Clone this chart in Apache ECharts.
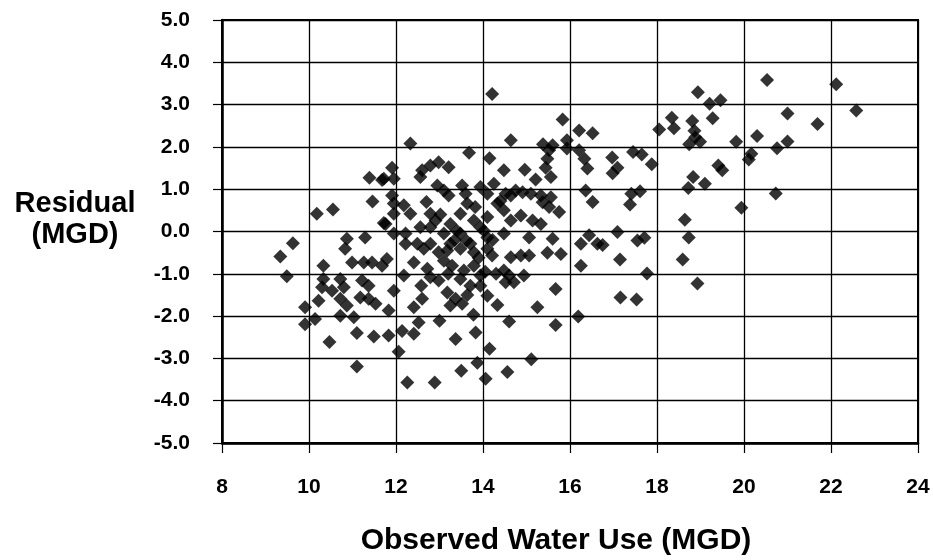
<!DOCTYPE html>
<html>
<head>
<meta charset="utf-8">
<script src="https://cdn.jsdelivr.net/npm/echarts@6/dist/echarts.min.js"></script>
<style>
  html, body { margin: 0; padding: 0; background: #fff; }
  #chart { width: 933px; height: 560px; }
</style>
</head>
<body>
<div id="chart"></div>
<script>
// Observed water use (MGD) for each day
const observed = [
  20.53, 22.12, 22.58, 18.94, 19.46, 19.21, 21.00, 21.69, 18.34, 18.39, 18.05, 18.81, 19.28, 18.86, 18.88, 18.74, 18.99,
  19.82, 20.30, 21.00, 20.76, 20.17, 20.11, 19.41, 19.50, 18.83, 18.72, 19.10, 20.73, 19.94, 18.64, 18.73, 18.59, 18.93,
  17.45, 17.65, 16.97, 17.09, 17.88, 16.98, 17.61, 17.41, 17.38, 17.09, 16.75, 17.55, 17.71, 17.15, 17.77, 17.16, 17.53,
  14.21, 15.83, 16.21, 16.52, 14.64, 15.93, 15.38, 15.60, 15.93, 16.21, 15.52, 15.48, 16.33, 16.40, 14.15, 14.48, 14.96,
  15.44, 15.56, 15.21, 16.36, 16.52, 14.25, 14.64, 14.52, 14.75, 14.91, 15.10, 15.33, 15.56, 15.37, 15.52, 15.75, 14.33,
  14.48, 14.87, 15.14, 15.33, 14.64, 14.48, 15.06, 15.60, 16.44, 16.25, 16.63,
  14.21, 14.64, 14.87, 15.06, 15.48, 15.79, 16.25, 14.48, 14.60, 14.71, 14.52, 14.94, 15.67, 14.33, 15.25, 14.60, 15.67,
  16.19, 14.15, 15.11, 14.56,
  11.79, 11.68, 12.41, 12.18, 11.95, 12.60, 12.41, 11.83, 12.72, 12.58, 13.00, 12.52, 12.14, 12.41, 11.83, 12.06, 13.37,
  13.78, 13.83, 13.87, 13.50, 14.06, 12.26, 12.89,
  12.64, 12.98, 13.18, 13.48, 13.79, 14.10, 13.10, 13.29, 13.56, 13.79, 13.94, 13.48, 13.71, 13.94, 12.79, 12.98, 13.18,
  13.37, 13.52, 13.25, 14.10,
  12.33, 13.68, 11.91, 11.72, 11.95, 12.60, 12.79, 12.98, 13.21, 12.56, 12.95, 13.10, 13.21, 13.52, 13.60, 13.94, 14.10,
  11.91, 11.95, 12.18, 12.33, 11.95, 11.76, 11.95, 12.22, 12.22, 12.56, 12.79, 12.79, 12.91, 13.10, 13.25, 13.48, 13.64,
  13.48, 13.79, 13.94, 14.10, 13.71, 14.10, 12.49, 12.79, 13.25,
  11.39, 11.68, 11.46, 10.18, 10.55, 11.72, 10.87, 11.29, 9.63, 10.83, 9.34,
  10.33, 9.49, 10.99, 11.26, 11.45, 10.33, 10.72, 10.30, 10.53, 10.80, 11.22, 11.37, 10.22, 10.72, 10.87, 11.18, 11.37,
  11.53, 9.91, 10.14, 9.91, 10.72, 11.03, 11.10, 11.49, 10.47, 11.10,
  13.40, 13.62, 13.90, 14.02, 13.20, 13.64, 14.30, 14.22, 13.82, 14.40, 12.70, 13.02, 13.35, 14.05
];

// Model residual (MGD) for the same days
const residual = [
  3.58, 3.48, 2.86, 3.29, 3.10, 3.02, 2.79, 2.54, 2.69, 2.44, 2.41, 2.61, 2.68, 2.38, 2.23, 2.06, 2.12,
  2.12, 2.26, 2.13, 1.97, 1.84, 1.70, 1.56, 1.45, 1.29, 1.03, 1.13, 0.90, 0.56, 0.28, -0.14, -0.66, -1.23,
  1.88, 1.82, 1.75, 1.51, 1.59, 1.38, 0.95, 0.89, 0.64, -0.01, -0.32, -0.21, -0.15, -0.66, -0.99, -1.56, -1.61,
  3.25, 2.65, 2.39, 2.32, 2.16, 2.16, 2.06, 2.04, 1.96, 1.92, 1.92, 1.72, 1.72, 1.49, 1.73, 1.45, 1.46,
  1.51, 1.29, 1.23, 0.97, 0.70, 1.13, 0.85, 0.89, 0.97, 0.93, 0.89, 0.85, 0.81, 0.69, 0.58, 0.46, 0.66,
  0.50, 0.38, 0.26, 0.18, 0.26, -0.05, -0.14, -0.17, -0.09, -0.29, -0.29,
  -0.57, -0.61, -0.57, -0.57, -0.50, -0.53, -0.81, -0.92, -1.04, -1.20, -1.20, -1.04, -1.36, -1.74, -1.79, -2.13, -2.21,
  -2.01, -2.77, -3.02, -3.32,
  -0.65, -0.81, -0.73, -1.04, -1.40, -1.59, -1.79, -1.87, -0.88, -1.28, -2.11, -2.15, -2.35, -2.42, -2.46, -2.84, -2.54,
  -1.97, -2.39, -3.10, -3.29, -3.48, -3.57, -3.57,
  -0.41, -0.49, -0.45, -0.41, -0.49, -0.41, -0.69, -0.81, -0.92, -0.81, -1.04, -1.12, -1.28, -1.28, -1.08, -1.16, -1.44,
  -1.59, -1.71, -1.75, -1.52,
  2.08, 1.86, 1.51, 1.25, 1.25, 1.45, 1.56, 1.64, 1.52, 1.29, 1.09, 0.97, 0.85, 1.09, 0.89, 1.05, 0.89,
  0.85, 0.66, 0.62, 0.42, 0.42, 0.18, -0.05, -0.05, -0.29, 0.10, 0.42, 0.10, 0.26, -0.05, 0.18, 0.42, 0.66,
  -0.05, 0.26, 0.10, 0.34, -0.29, -0.14, -0.29, -0.29, -0.29,
  1.27, 1.22, 0.71, 0.42, 0.52, 0.20, -0.17, -0.14, -0.28, -0.41, -0.59,
  -0.81, -1.06, -0.73, -0.73, -0.73, -1.12, -1.12, -1.32, -1.40, -1.32, -1.16, -1.28, -1.64, -1.59, -1.75, -1.56, -1.59,
  -1.71, -1.79, -2.07, -2.19, -1.99, -2.03, -2.40, -2.48, -2.61, -3.19,
  0.02, -0.22, -0.62, 0.02, -1.00, -1.50, -1.00, -0.20, 0.58, 0.72, 0.70, 0.40, -0.20, -0.95
];

const xTitle = 'Observed Water Use (MGD)';
const yTitle = ['Residual', '(MGD)'];

const points = observed.map((x, i) => [x, residual[i]]);

const chart = echarts.init(document.getElementById('chart'), null, { renderer: 'canvas' });

const FONT = 'Liberation Sans, Arial, Helvetica, sans-serif';
const tickFont = { fontFamily: FONT, fontSize: 21, fontWeight: 'bold', color: '#000' };

chart.setOption({
  animation: false,
  backgroundColor: '#fff',
  grid: {
    left: 222, right: 15, top: 20, bottom: 117,
    show: true, borderColor: '#000', borderWidth: 2, backgroundColor: 'transparent'
  },
  xAxis: {
    type: 'value',
    min: 8, max: 24, interval: 2,
    axisLine: { show: true, onZero: false, lineStyle: { color: '#000', width: 2.5 } },
    axisTick: { show: true, inside: false, length: 10, lineStyle: { color: '#000', width: 1.2 } },
    axisLabel: Object.assign({ margin: 34 }, tickFont),
    splitLine: { show: true, lineStyle: { color: '#000', width: 1.3 } }
  },
  yAxis: {
    type: 'value',
    min: -5, max: 5, interval: 1,
    axisLine: { show: true, onZero: false, lineStyle: { color: '#000', width: 2.5 } },
    axisTick: { show: true, inside: false, length: 9, lineStyle: { color: '#000', width: 1.2 } },
    axisLabel: Object.assign({ margin: 32, formatter: v => v.toFixed(1) }, tickFont),
    splitLine: { show: true, lineStyle: { color: '#000', width: 1.3 } }
  },
  graphic: [{
    type: 'text',
    x: 75,
    y: 188,
    style: {
      text: yTitle.join('\n'),
      font: 'bold 29px ' + FONT,
      fill: '#000',
      align: 'center',
      verticalAlign: 'top',
      lineHeight: 31
    }
  }, {
    type: 'text',
    x: 556,
    y: 541,
    style: {
      text: xTitle,
      font: 'bold 30px ' + FONT,
      fill: '#000',
      align: 'center',
      verticalAlign: 'middle'
    }
  }],
  series: [{
    type: 'scatter',
    data: points,
    symbol: 'diamond',
    symbolSize: 14,
    itemStyle: { color: '#000' },
    z: 5
  }]
});
</script>
</body>
</html>
